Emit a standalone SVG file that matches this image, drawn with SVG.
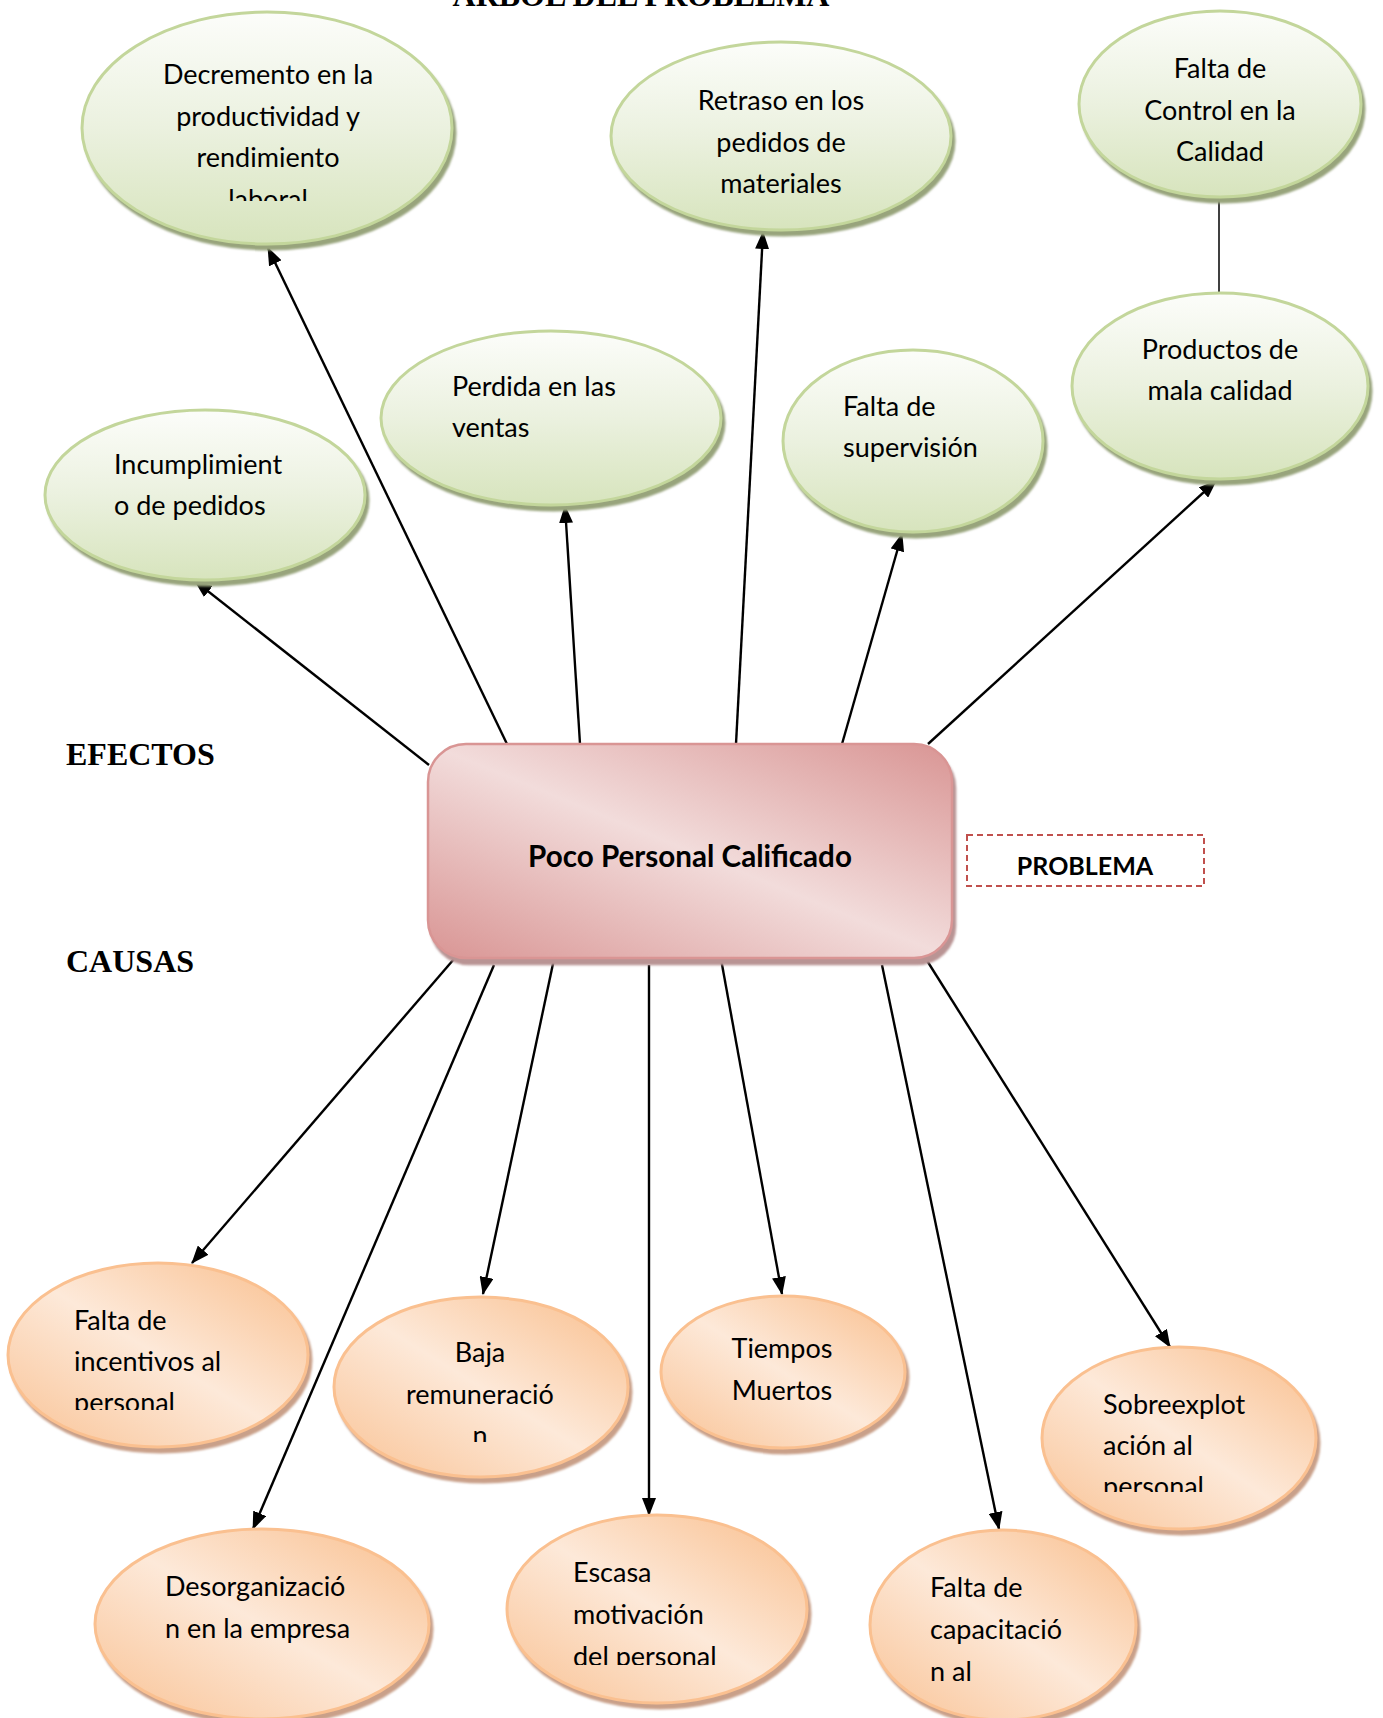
<svg xmlns="http://www.w3.org/2000/svg" width="1383" height="1718" viewBox="0 0 1383 1718">
<defs>
<style>
.t{font-family:Lato,"Open Sans","Liberation Sans",sans-serif;font-size:27px;fill:#000}
.tc{text-anchor:middle}
.hd{font-family:"Liberation Serif","Times New Roman",serif;font-weight:bold;font-size:32px;fill:#000}
.g{fill:url(#gG);stroke:#C3D69B;stroke-width:3;filter:url(#shG)}
.o{fill:url(#gO);stroke:#FAC090;stroke-width:3;filter:url(#shO)}
.c{stroke:#000;stroke-width:2.4;fill:none;marker-end:url(#arr)}
</style>
<linearGradient id="gG" x1="0" y1="0" x2="0" y2="1">
<stop offset="0" stop-color="#FCFDFA"/><stop offset="0.5" stop-color="#EBF1DF"/><stop offset="1" stop-color="#D7E4BD"/>
</linearGradient>
<linearGradient id="gO" x1="1" y1="0" x2="0" y2="1">
<stop offset="0" stop-color="#F9BE8C"/><stop offset="0.5" stop-color="#FDE9D9"/><stop offset="1" stop-color="#F9C294"/>
</linearGradient>
<linearGradient id="gP" x1="1" y1="0" x2="0" y2="1">
<stop offset="0" stop-color="#D99594"/><stop offset="0.5" stop-color="#F2DCDB"/><stop offset="1" stop-color="#D99594"/>
</linearGradient>
<filter id="shG" x="-10%" y="-10%" width="125%" height="125%">
<feOffset in="SourceAlpha" dx="3" dy="5" result="o"/><feGaussianBlur in="o" stdDeviation="1" result="b"/>
<feFlood flood-color="#98A47C"/><feComposite in2="b" operator="in" result="s"/>
<feMerge><feMergeNode in="s"/><feMergeNode in="SourceGraphic"/></feMerge>
</filter>
<filter id="shO" x="-10%" y="-10%" width="125%" height="125%">
<feOffset in="SourceAlpha" dx="3" dy="5" result="o"/><feGaussianBlur in="o" stdDeviation="1" result="b"/>
<feFlood flood-color="#C9A089"/><feComposite in2="b" operator="in" result="s"/>
<feMerge><feMergeNode in="s"/><feMergeNode in="SourceGraphic"/></feMerge>
</filter>
<filter id="shP" x="-10%" y="-10%" width="125%" height="125%">
<feOffset in="SourceAlpha" dx="3" dy="6" result="o"/><feGaussianBlur in="o" stdDeviation="1" result="b"/>
<feFlood flood-color="#B99494"/><feComposite in2="b" operator="in" result="s"/>
<feMerge><feMergeNode in="s"/><feMergeNode in="SourceGraphic"/></feMerge>
</filter>
<marker id="arr" markerWidth="18" markerHeight="14" refX="17" refY="7" orient="auto" markerUnits="userSpaceOnUse">
<path d="M0,0 L18,7 L0,14 z" fill="#000"/>
</marker>
<clipPath id="c1"><rect x="0" y="0" width="1383" height="201"/></clipPath>
<clipPath id="cA"><rect x="0" y="1200" width="1383" height="210"/></clipPath>
<clipPath id="cB"><rect x="0" y="1200" width="1383" height="242"/></clipPath>
<clipPath id="cD"><rect x="0" y="1300" width="1383" height="192"/></clipPath>
<clipPath id="cF"><rect x="0" y="1500" width="1383" height="165"/></clipPath>
</defs>
<rect width="1383" height="1718" fill="#fff"/>

<g id="labels">
<text class="hd" x="641" y="6" text-anchor="middle">ÁRBOL DEL PROBLEMA</text>
<text class="hd" x="66" y="765">EFECTOS</text>
<text class="hd" x="66" y="972">CAUSAS</text>
</g>

<g id="connectors">
<line class="c" x1="429" y1="765" x2="195" y2="581"/>
<line class="c" x1="507" y1="744" x2="268" y2="248"/>
<line class="c" x1="580" y1="744" x2="565" y2="506"/>
<line class="c" x1="736" y1="744" x2="763" y2="232"/>
<line class="c" x1="842" y1="744" x2="902" y2="534"/>
<line class="c" x1="928" y1="744" x2="1216" y2="481"/>
<line x1="1219" y1="200" x2="1219" y2="294" stroke="#000" stroke-width="1.5"/>
<line class="c" x1="454" y1="959" x2="192" y2="1263"/>
<line class="c" x1="494" y1="965" x2="253" y2="1529"/>
<line class="c" x1="554" y1="959" x2="483" y2="1294"/>
<line class="c" x1="649" y1="965" x2="649" y2="1515"/>
<line class="c" x1="721" y1="959" x2="782" y2="1294"/>
<line class="c" x1="882" y1="965" x2="999" y2="1529"/>
<line class="c" x1="926" y1="959" x2="1170" y2="1347"/>
</g>

<g id="problema">
<rect x="428" y="744" width="524" height="214" rx="38" ry="38" fill="url(#gP)" stroke="#D99594" stroke-width="2.5" filter="url(#shP)"/>
<text class="t tc" x="690" y="867" style="font-weight:bold;font-size:29.6px">Poco Personal Calificado</text>
</g>
<g id="problema-tag">
<rect x="967" y="835" width="237" height="51" fill="none" stroke="#C0504D" stroke-width="2" stroke-dasharray="6 4"/>
<text class="t tc" x="1085" y="875" style="font-weight:bold;font-size:25px">PROBLEMA</text>
</g>

<g id="e-decremento">
<ellipse class="g" cx="267" cy="128" rx="185" ry="116"/>
<g clip-path="url(#c1)">
<text class="t tc" x="268" y="84">Decremento en la</text>
<text class="t tc" x="268" y="125.5">productividad y</text>
<text class="t tc" x="268" y="167">rendimiento</text>
<text class="t tc" x="268" y="208.5">laboral</text>
</g>
</g>
<g id="e-retraso">
<ellipse class="g" cx="781" cy="136" rx="170" ry="94"/>
<text class="t tc" x="781" y="110">Retraso en los</text>
<text class="t tc" x="781" y="151.5">pedidos de</text>
<text class="t tc" x="781" y="193">materiales</text>
</g>
<g id="e-control">
<ellipse class="g" cx="1220" cy="104" rx="141" ry="93"/>
<text class="t tc" x="1220" y="78">Falta de</text>
<text class="t tc" x="1220" y="120">Control en la</text>
<text class="t tc" x="1220" y="161">Calidad</text>
</g>
<g id="e-productos">
<ellipse class="g" cx="1220" cy="386" rx="148" ry="93"/>
<text class="t tc" x="1220" y="359">Productos de</text>
<text class="t tc" x="1220" y="400">mala calidad</text>
</g>
<g id="e-supervision">
<ellipse class="g" cx="913" cy="441" rx="130" ry="91"/>
<text class="t" x="843" y="416">Falta de</text>
<text class="t" x="843" y="457">supervisión</text>
</g>
<g id="e-perdida">
<ellipse class="g" cx="551" cy="418" rx="170" ry="87"/>
<text class="t" x="452" y="396">Perdida en las</text>
<text class="t" x="452" y="437">ventas</text>
</g>
<g id="e-incumplimiento">
<ellipse class="g" cx="205" cy="495" rx="160" ry="85"/>
<text class="t" x="114" y="474">Incumplimient</text>
<text class="t" x="114" y="515">o de pedidos</text>
</g>

<g id="c-incentivos">
<ellipse class="o" cx="158" cy="1355" rx="150" ry="92"/>
<g clip-path="url(#cA)">
<text class="t" x="74" y="1330">Falta de</text>
<text class="t" x="74" y="1371">incentivos al</text>
<text class="t" x="74" y="1412">personal</text>
</g>
</g>
<g id="c-remuneracion">
<ellipse class="o" cx="481" cy="1387" rx="147" ry="90"/>
<g clip-path="url(#cB)">
<text class="t tc" x="480" y="1362">Baja</text>
<text class="t tc" x="480" y="1404">remuneració</text>
<text class="t tc" x="480" y="1445">n</text>
</g>
</g>
<g id="c-tiempos">
<ellipse class="o" cx="783" cy="1372" rx="122" ry="76"/>
<text class="t tc" x="782" y="1358">Tiempos</text>
<text class="t tc" x="782" y="1400">Muertos</text>
</g>
<g id="c-sobreexplotacion">
<ellipse class="o" cx="1179" cy="1438" rx="137" ry="91"/>
<g clip-path="url(#cD)">
<text class="t" x="1103" y="1414">Sobreexplot</text>
<text class="t" x="1103" y="1455">ación al</text>
<text class="t" x="1103" y="1496">personal</text>
</g>
</g>
<g id="c-desorganizacion">
<ellipse class="o" cx="262" cy="1624" rx="167" ry="95"/>
<text class="t" x="165" y="1596">Desorganizació</text>
<text class="t" x="165" y="1638">n en la empresa</text>
</g>
<g id="c-motivacion">
<ellipse class="o" cx="657" cy="1609" rx="150" ry="94"/>
<g clip-path="url(#cF)">
<text class="t" x="573" y="1582">Escasa</text>
<text class="t" x="573" y="1624">motivación</text>
<text class="t" x="573" y="1666">del personal</text>
</g>
</g>
<g id="c-capacitacion">
<ellipse class="o" cx="1003" cy="1625" rx="133" ry="95"/>
<text class="t" x="930" y="1597">Falta de</text>
<text class="t" x="930" y="1639">capacitació</text>
<text class="t" x="930" y="1681">n al</text>
</g>
</svg>
